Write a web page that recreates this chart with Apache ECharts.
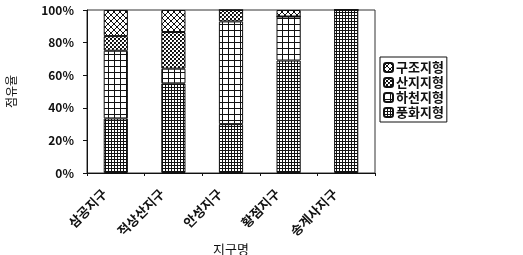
<!DOCTYPE html>
<html><head><meta charset="utf-8">
<script src="https://cdn.jsdelivr.net/npm/echarts@6/dist/echarts.min.js"></script>
<style>html,body{margin:0;padding:0;background:#fff}#c{width:523px;height:255px}</style>
</head><body><div id="c"></div>
<script>
const categories = ['삼공지구', '적상산지구', '안성지구', '황점지구', '송계사지구'];
const weathering = [33.5, 55, 30, 69, 100];   // 풍화지형
const river      = [41.5, 9, 63, 27, 0];       // 하천지형
const mountain   = [9, 22.5, 7, 0, 0];         // 산지지형
const structure  = [16, 13.5, 0, 4, 0];        // 구조지형
const yTicks = [0, 20, 40, 60, 80, 100];

function pat(size, draw) {
  const c = document.createElement('canvas');
  c.width = size; c.height = size;
  const g = c.getContext('2d');
  g.fillStyle = '#fff'; g.fillRect(0, 0, size, size);
  g.fillStyle = '#111'; g.strokeStyle = '#111';
  draw(g, size);
  return { image: c, repeat: 'repeat' };
}
const pWeather = pat(3, (g) => { g.fillRect(0, 0, 3, 1); g.fillRect(0, 0, 1, 3); });
const pRiver = pat(6, (g) => { g.fillRect(0, 0, 6, 1); g.fillRect(0, 0, 1, 6); });
const pMount = pat(4, (g) => { g.fillRect(0, 0, 2, 2); g.fillRect(2, 2, 2, 2); g.fillStyle='#555'; g.fillRect(1,1,1,1); });
const pStruct = pat(6, (g) => {
  g.lineWidth = 1;
  g.beginPath(); g.moveTo(0, 0); g.lineTo(6, 6); g.moveTo(6, 0); g.lineTo(0, 6); g.stroke();
});

const font = '"Noto Sans CJK KR", sans-serif';
const chart = echarts.init(document.getElementById('c'), null, { renderer: 'canvas' });
const base = { type: 'bar', stack: 'a', barWidth: '42%', itemStyle: { borderColor: '#111', borderWidth: 1 } };
chart.setOption({
  animation: false,
  backgroundColor: '#fff',
  grid: { left: 87, right: 148, top: 10, bottom: 82, containLabel: false, outerBoundsMode: 'none',
    show: true, borderColor: '#333', borderWidth: 1 },
  legend: {
    orient: 'vertical', left: 380, top: 57,
    data: ['구조지형', '산지지형', '하천지형', '풍화지형'],
    borderColor: '#111', borderWidth: 1, padding: [4, 3, 3, 3],
    itemWidth: 9, itemHeight: 9, itemGap: 2,
    textStyle: { fontFamily: font, fontSize: 13, fontWeight: 'bold', color: '#111', padding: [0, 0, 0, -2] }
  },
  xAxis: {
    type: 'category', data: categories,
    name: '지구명', nameLocation: 'middle', nameGap: 70, nameMoveOverlap: false,
    nameTextStyle: { fontFamily: font, fontSize: 13, color: '#111' },
    axisLine: { lineStyle: { color: '#111', width: 1 } },
    axisTick: { show: true, length: 3, lineStyle: { color: '#111' } },
    axisLabel: { rotate: 45, margin: 7, padding: [0, 16, 0, 0], fontFamily: font, fontSize: 13, fontWeight: 'bold', color: '#111', interval: 0 }
  },
  yAxis: {
    type: 'value', min: 0, max: 100, interval: 20,
    name: '점유율', nameLocation: 'middle', nameGap: 70, nameRotate: 90,
    nameTextStyle: { fontFamily: font, fontSize: 12, color: '#111' },
    axisLine: { show: true, lineStyle: { color: '#111', width: 1 } },
    axisTick: { show: true, length: 4, lineStyle: { color: '#111' } },
    splitLine: { show: false },
    axisLabel: { margin: 13, fontFamily: font, fontSize: 12, fontWeight: 'bold', color: '#111',
      formatter: (v) => yTicks.includes(v) ? v + '%' : '' }
  },
  series: [
    Object.assign({}, base, { name: '풍화지형', data: weathering, itemStyle: Object.assign({}, base.itemStyle, { color: pWeather }) }),
    Object.assign({}, base, { name: '하천지형', data: river, itemStyle: Object.assign({}, base.itemStyle, { color: pRiver }) }),
    Object.assign({}, base, { name: '산지지형', data: mountain, itemStyle: Object.assign({}, base.itemStyle, { color: pMount }) }),
    Object.assign({}, base, { name: '구조지형', data: structure, itemStyle: Object.assign({}, base.itemStyle, { color: pStruct }) })
  ]
});
</script></body></html>
